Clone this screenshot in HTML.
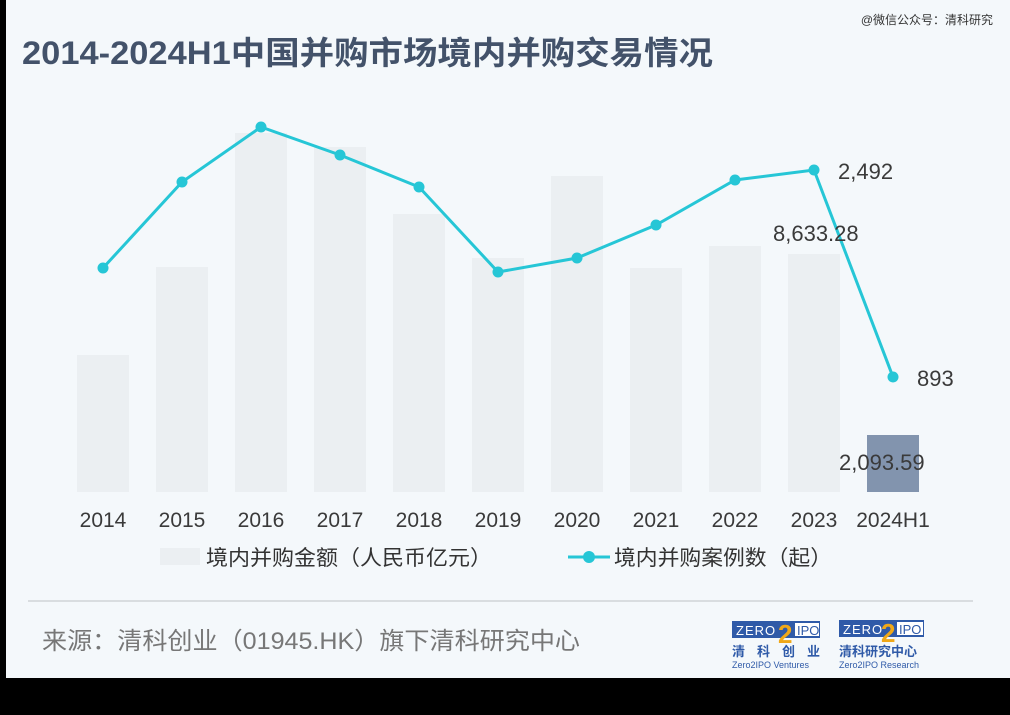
<!DOCTYPE html>
<html><head><meta charset="utf-8"><style>
body{margin:0;width:1010px;height:715px;background:#000;overflow:hidden;font-family:"Liberation Sans","Noto Sans CJK SC",sans-serif;}
#p{position:absolute;left:6px;top:0;width:1004px;height:678px;background:#f4f8fb;}
</style></head><body>
<div id="p"></div>
<svg width="1010" height="715" style="position:absolute;left:0;top:0" font-family="Liberation Sans, Noto Sans CJK SC, sans-serif">
<text x="993" y="24" font-size="12" fill="#333" text-anchor="end">@微信公众号：清科研究</text>
<text x="22" y="64" font-size="32" font-weight="bold" fill="#43526a" textLength="691" lengthAdjust="spacingAndGlyphs">2014-2024H1中国并购市场境内并购交易情况</text>
<g fill="#ebeff2">
<rect x="77" y="355" width="52" height="137"/>
<rect x="156" y="267" width="52" height="225"/>
<rect x="235" y="133" width="52" height="359"/>
<rect x="314" y="147" width="52" height="345"/>
<rect x="393" y="214" width="52" height="278"/>
<rect x="472" y="258" width="52" height="234"/>
<rect x="551" y="176" width="52" height="316"/>
<rect x="630" y="268" width="52" height="224"/>
<rect x="709" y="246" width="52" height="246"/>
<rect x="788" y="254" width="52" height="238"/>
</g>
<rect x="867" y="435" width="52" height="57" fill="#8294ae"/>
<polyline fill="none" stroke="#26c6d6" stroke-width="3" points="103,268 182,182 261,127 340,155 419,187 498,272 577,258 656,225 735,180 814,170 893,377"/>
<g fill="#26c6d6">
<circle cx="103" cy="268" r="5.5"/><circle cx="182" cy="182" r="5.5"/><circle cx="261" cy="127" r="5.5"/><circle cx="340" cy="155" r="5.5"/><circle cx="419" cy="187" r="5.5"/><circle cx="498" cy="272" r="5.5"/><circle cx="577" cy="258" r="5.5"/><circle cx="656" cy="225" r="5.5"/><circle cx="735" cy="180" r="5.5"/><circle cx="814" cy="170" r="5.5"/><circle cx="893" cy="377" r="5.5"/>
</g>
<g font-size="22" fill="#3a3a3a">
<text x="838" y="179">2,492</text>
<text x="773" y="241">8,633.28</text>
<text x="917" y="386">893</text>
<text x="839" y="470">2,093.59</text>
</g>
<g font-size="21" fill="#3a3a3a" text-anchor="middle">
<text x="103" y="527">2014</text><text x="182" y="527">2015</text><text x="261" y="527">2016</text><text x="340" y="527">2017</text><text x="419" y="527">2018</text><text x="498" y="527">2019</text><text x="577" y="527">2020</text><text x="656" y="527">2021</text><text x="735" y="527">2022</text><text x="814" y="527">2023</text><text x="893" y="527">2024H1</text>
</g>
<rect x="160" y="548" width="40" height="17" fill="#ebeff2"/>
<text x="206" y="565" font-size="21" fill="#333" textLength="286" lengthAdjust="spacingAndGlyphs">境内并购金额（人民币亿元）</text>
<line x1="568" y1="557" x2="610" y2="557" stroke="#26c6d6" stroke-width="3"/>
<circle cx="589" cy="557" r="6" fill="#26c6d6"/>
<text x="614" y="565" font-size="21" fill="#333" textLength="218" lengthAdjust="spacingAndGlyphs">境内并购案例数（起）</text>
<line x1="28" y1="601" x2="973" y2="601" stroke="#d0d4d8" stroke-width="1.5"/>
<text x="42" y="649" font-size="24" fill="#777" textLength="538" lengthAdjust="spacingAndGlyphs">来源：清科创业（01945.HK）旗下清科研究中心</text>
<g>
<rect x="732" y="621" width="88" height="17" fill="#2f5aa8"/><rect x="795" y="623" width="24" height="13" fill="#fff"/>
<text x="736" y="635" font-size="13" fill="#fff" letter-spacing="1">ZERO</text><text x="797" y="635" font-size="13" fill="#2f5aa8">IPO</text>
<text x="778" y="643" font-size="26" font-weight="bold" fill="#f0a818">2</text>
<text x="732" y="656" font-size="13" font-weight="bold" fill="#2f5aa8" letter-spacing="12">清科创业</text>
<text x="732" y="668" font-size="9" fill="#2f5aa8">Zero2IPO Ventures</text>
<rect x="839" y="620" width="85" height="17" fill="#2f5aa8"/><rect x="897" y="622" width="26" height="13" fill="#fff"/>
<text x="843" y="634" font-size="13" fill="#fff" letter-spacing="1">ZERO</text><text x="899" y="634" font-size="13" fill="#2f5aa8">IPO</text>
<text x="881" y="642" font-size="26" font-weight="bold" fill="#f0a818">2</text>
<text x="839" y="656" font-size="13" font-weight="bold" fill="#2f5aa8">清科研究中心</text>
<text x="839" y="668" font-size="9" fill="#2f5aa8">Zero2IPO Research</text>
</g>
</svg>
</body></html>
